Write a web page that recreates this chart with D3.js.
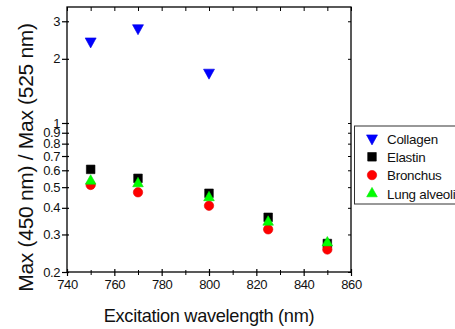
<!DOCTYPE html>
<html>
<head>
<meta charset="utf-8">
<script src="https://cdn.jsdelivr.net/npm/d3@7"></script>
<style>
  html, body { margin: 0; padding: 0; background: #fff; }
  svg { display: block; font-family: "Liberation Sans", Arial, sans-serif; }
</style>
</head>
<body>
<svg id="chart" width="455" height="329"></svg>
<script>
const wavelengths = [750, 770, 800, 825, 850];
const collagen = [2.41, 2.78, 1.72, null, null];
const elastin = [0.606, 0.55, 0.468, 0.361, 0.272];
const bronchus = [0.512, 0.473, 0.409, 0.317, 0.255];
const lungAlveoli = [0.536, 0.521, 0.448, 0.344, 0.275];
const seriesNames = ["Collagen", "Elastin", "Bronchus", "Lung alveoli"];
const xTickValues = [740, 760, 780, 800, 820, 840, 860];
const xMinorValues = [750, 770, 790, 810, 830, 850];
const yTickValues = [0.2, 0.3, 0.4, 0.5, 0.6, 0.7, 0.8, 0.9, 1, 2, 3];
const xLabel = "Excitation wavelength (nm)";
const yLabel = "Max (450 nm) / Max (525 nm)";

const svg = d3.select("#chart");
const pLeft = 67, pRight = 351, pTop = 7, pBottom = 272;

const x = d3.scaleLinear().domain([740, 860]).range([pLeft, pRight]);
const y = d3.scaleLog().domain([0.2, 3.5]).range([pBottom, pTop]);

const series = [
  { name: seriesNames[0], values: collagen, color: "#0000ff", symbol: "down" },
  { name: seriesNames[1], values: elastin, color: "#000000", symbol: "square" },
  { name: seriesNames[2], values: bronchus, color: "#ff0000", symbol: "circle" },
  { name: seriesNames[3], values: lungAlveoli, color: "#00ff00", symbol: "up" }
];

function markerPath(sym, cx, cy) {
  if (sym === "down") {
    const w = 5.5, h1 = 3.6, h2 = 6.4;
    return `M${cx - w},${cy - h1}L${cx + w},${cy - h1}L${cx},${cy + h2}Z`;
  }
  if (sym === "up") {
    const w = 5.3, h1 = 3.4, h2 = 6.0;
    return `M${cx - w},${cy + h1}L${cx + w},${cy + h1}L${cx},${cy - h2}Z`;
  }
  if (sym === "square") {
    const s = 4.3;
    return `M${cx - s},${cy - s}h${2 * s}v${2 * s}h${-2 * s}Z`;
  }
  const r = 4.7;
  return `M${cx - r},${cy}a${r},${r} 0 1,0 ${2 * r},0a${r},${r} 0 1,0 ${-2 * r},0Z`;
}

// frame
svg.append("rect").attr("x", pLeft).attr("y", pTop)
  .attr("width", pRight - pLeft).attr("height", pBottom - pTop)
  .attr("fill", "none").attr("stroke", "#000").attr("stroke-width", 1.3);

// bottom axis
const xAxis = svg.append("g").attr("transform", `translate(0,${pBottom})`)
  .call(d3.axisBottom(x).tickValues(xTickValues).tickSize(4).tickSizeOuter(0).tickFormat(d3.format("d")));
xAxis.select(".domain").remove();
xAxis.selectAll(".tick line").attr("y1", -3).attr("y2", 4).attr("stroke-width", 1.2);
xAxis.selectAll(".tick text").attr("y", 8).attr("font-size", 13).attr("fill", "#111")
  .attr("font-family", "Liberation Sans, Arial, sans-serif").attr("letter-spacing", -0.4);
const xMinor = svg.append("g").attr("transform", `translate(0,${pBottom})`)
  .call(d3.axisBottom(x).tickValues(xMinorValues).tickSize(3).tickSizeOuter(0).tickFormat(""));
xMinor.select(".domain").remove();
xMinor.selectAll(".tick line").attr("y1", -2).attr("y2", 3);

// top ticks
const xTop = svg.append("g").attr("transform", `translate(0,${pTop})`)
  .call(d3.axisBottom(x).tickValues(xTickValues.concat(xMinorValues)).tickSize(4).tickSizeOuter(0).tickFormat(""));
xTop.select(".domain").remove();

// left axis
const yAxis = svg.append("g").attr("transform", `translate(${pLeft},0)`)
  .call(d3.axisLeft(y).tickValues(yTickValues).tickSize(4).tickSizeOuter(0).tickFormat(d3.format("")));
yAxis.select(".domain").remove();
yAxis.selectAll(".tick line").attr("x1", 2).attr("x2", -5).attr("stroke-width", 1.2);
yAxis.selectAll(".tick text").attr("x", -7).attr("font-size", 13).attr("fill", "#111")
  .attr("font-family", "Liberation Sans, Arial, sans-serif").attr("letter-spacing", -0.4);

// right ticks
const yRight = svg.append("g").attr("transform", `translate(${pRight},0)`)
  .call(d3.axisLeft(y).tickValues(yTickValues).tickSize(3).tickSizeOuter(0).tickFormat(""));
yRight.select(".domain").remove();

svg.selectAll(".tick line").attr("stroke", "#000");

// data markers
series.forEach(s => {
  const pts = wavelengths.map((w, i) => ({ w, v: s.values[i] })).filter(p => p.v != null);
  svg.append("g").selectAll("path").data(pts).join("path")
    .attr("d", p => markerPath(s.symbol, x(p.w), y(p.v)))
    .attr("fill", s.color)
    .attr("stroke", s.color === "#000000" ? "#000" : d3.color(s.color).darker(0.3))
    .attr("stroke-width", 0.6);
});

// axis titles
svg.append("text").attr("x", 209).attr("y", 321.5).attr("text-anchor", "middle")
  .attr("font-size", 18.2).attr("letter-spacing", -0.3).attr("fill", "#111").text(xLabel);
svg.append("text").attr("transform", "translate(33,157.5) rotate(-90)")
  .attr("text-anchor", "middle").attr("font-size", 21).attr("letter-spacing", -0.3)
  .attr("fill", "#111").text(yLabel);

// legend
const lg = svg.append("g");
lg.append("rect").attr("x", 354.5).attr("y", 126).attr("width", 110).attr("height", 78)
  .attr("fill", "#fff").attr("stroke", "#333").attr("stroke-width", 1);
series.forEach((s, i) => {
  const cy = 138.5 + i * 18.3;
  lg.append("path").attr("d", markerPath(s.symbol, 372, cy))
    .attr("fill", s.color).attr("stroke", s.color === "#000000" ? "#000" : d3.color(s.color).darker(0.3))
    .attr("stroke-width", 0.6);
  lg.append("text").attr("x", 387).attr("y", cy + 5.2).attr("font-size", 13.4)
    .attr("letter-spacing", -0.25).attr("fill", "#111").text(s.name);
});
</script>
</body>
</html>
